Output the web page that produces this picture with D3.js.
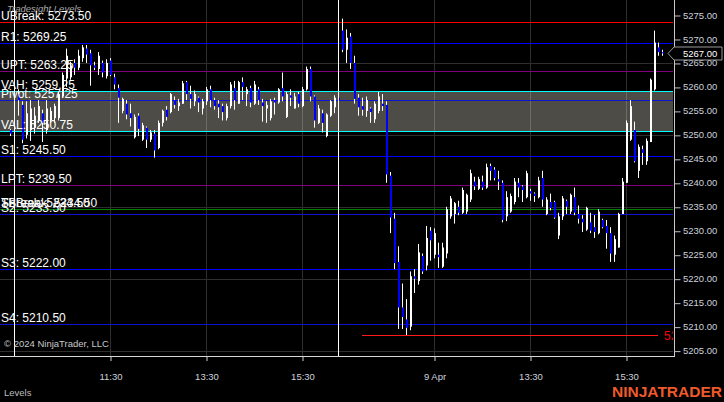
<!DOCTYPE html>
<html><head><meta charset="utf-8">
<script src="https://cdn.jsdelivr.net/npm/d3@7"></script>
<style>
html,body{margin:0;padding:0;background:#000;}
svg{display:block;}
text{font-family:"Liberation Sans",Arial,sans-serif;}
</style></head><body>
<svg id="chart" width="724" height="402"></svg>
<script>
// ---------- DATA ----------
const levelNames  = ["UBreak","R1","UPT","VAH","Pivot","VAL","S1","LPT","TBreak","ShBreak","S2","S3","S4"];
const levelValues = [5273.50, 5269.25, 5263.25, 5259.25, 5257.25, 5250.75, 5245.50, 5239.50, 5234.50, 5234.50, 5233.50, 5222.00, 5210.50];
const lowOfDay = 5208.25;
const lastPrice = 5267.00;
const priceTicks = [5205,5210,5215,5220,5225,5230,5235,5240,5245,5250,5255,5260,5265,5270,5275];
const gridPrices = [5205,5220,5235,5250,5265];
const timeTickIndex = [24,48,72,105,129,153];
const timeTickLabels = ["11:30","13:30","15:30","9 Apr","13:30","15:30"];
const sessionBreakIndex = [0,81];
// [open, high, low, close], 5-minute bars
const prevBars = [[5251,5251.25,5249.75,5250.25]];
const day1Bars = [
[5258.5,5259.5,5254,5257.25],[5256.25,5257,5248.25,5249],[5250,5257,5249.25,5254.5],[5251,5257.25,5248.75,5255.5],
[5251.5,5255.75,5250.25,5254],[5253,5257.25,5252.5,5256],[5254.5,5255.25,5248.5,5252.5],[5251,5257.25,5250.25,5255.5],
[5253,5255.75,5252.5,5255],[5253.5,5256.5,5252.5,5256],[5253.5,5259,5253,5258.5],[5258,5263,5257.75,5262.5],
[5261.75,5268,5260,5266.5],[5262,5265.25,5261.5,5264.5],[5265,5265.75,5262.5,5264],[5264,5267.75,5263.5,5266.5],
[5266,5268.75,5265.25,5268.25],[5268,5268.75,5265,5266.75],[5267,5267.75,5260.25,5264.5],[5264.5,5265.25,5263.5,5264],
[5263.75,5267.25,5262.5,5266.5],[5265,5265.5,5262,5263],[5262.25,5265.75,5261.75,5265],[5265.5,5266,5262.25,5262.5],
[5262,5262.75,5259.5,5260.5],[5259.75,5260.5,5252.5,5257.75],[5255,5257.75,5254.5,5257.5],[5256.5,5257.25,5253.25,5254.25],
[5254.5,5256.5,5251.75,5253.5],[5249.5,5254.25,5249.25,5253.75],[5254,5254.5,5249.75,5251.25],[5249,5252.5,5248.75,5252],
[5251.5,5251.75,5247.25,5249],[5249,5251,5248.5,5250.5],[5250.25,5251,5245.25,5246.75],[5247.25,5253,5247,5252.5],
[5252.5,5255.25,5251.75,5255],[5255.25,5256,5253,5253.75],[5254.75,5258.75,5254.5,5258.5],[5257.25,5258,5255.5,5256.25],
[5256,5257.5,5255,5256.75],[5256.5,5261.25,5256.5,5260.75],[5261,5261.25,5257.25,5258.5],[5258.5,5260.25,5255.5,5257.5],
[5257,5259.25,5256,5258.5],[5257.75,5258,5254.75,5256.75],[5255.5,5257.5,5254.25,5257],[5257,5260,5256.25,5259.5],
[5259.5,5260.25,5255.75,5257.25],[5257.25,5257.75,5255.25,5256],[5256.5,5257.25,5253.5,5255.75],[5256,5256.5,5253,5254.75],
[5253.5,5256.5,5253,5256],[5256,5261,5255.5,5260.5],[5259.75,5261.25,5255.25,5257.25],[5256.5,5261.25,5256.5,5261],
[5261,5262,5257.25,5260],[5258.5,5260,5256,5259.5],[5259.75,5260.25,5255.75,5256.75],[5256.5,5261.25,5256.25,5260.5],
[5259.5,5260,5256.25,5257.25],[5256.75,5257.5,5252.75,5256],[5255.5,5257,5252.5,5256.25],[5253.5,5257.5,5253,5257],
[5257.25,5257.75,5254.25,5256.75],[5256.75,5259.75,5256.5,5259.5],[5259.75,5263,5257,5258],[5253.75,5259,5253.5,5258.5],
[5258.25,5259.5,5256,5257.75],[5255.5,5258.75,5255.5,5258],[5258.5,5259,5255.75,5256.5],[5256,5260,5255.75,5259.5],
[5259.5,5264.25,5259.25,5263.75],[5263.75,5264.25,5257,5258],[5258,5258.25,5251.5,5253],[5252.5,5256.25,5252.25,5255.5],
[5254.5,5255.25,5250.5,5252.5],[5249.75,5254.5,5249.5,5254.25],[5254,5257.25,5253.75,5257],[5255.75,5258.25,5254.5,5257.75],
[5257.75,5258,5256.5,5257.25]
];
const day2Bars = [
[5271.75,5274.25,5267.25,5267.75],[5267.75,5272,5265,5270.25],[5270.5,5271.25,5263.75,5265],[5265,5266.5,5256.5,5257.5],
[5257.75,5258.5,5254,5255.75],[5256,5257.75,5254,5255.25],[5255,5258,5253.75,5257.25],[5255.5,5255.75,5252.5,5254.75],
[5253.25,5257,5252.5,5256.5],[5255,5259,5254.5,5258],[5256.5,5258.5,5255,5256],[5256.25,5257,5240,5241.75],
[5241.5,5242.25,5229.5,5232.75],[5232.5,5233.75,5222,5223.25],[5223.5,5226.75,5209.5,5214],[5214,5219,5209.5,5212],
[5211.5,5215.75,5208.25,5209.75],[5210,5221.5,5209.25,5220.5],[5220.5,5222,5217,5220],[5219.5,5227.25,5218.75,5225.5],
[5224.75,5225.25,5221,5221.5],[5222.75,5231,5221.75,5228.5],[5230,5230.75,5223.75,5228],[5225,5230.5,5224.25,5229.5],
[5225,5227.5,5222.25,5224.5],[5222.5,5227.5,5222.25,5226.5],[5225.25,5235,5224.25,5234.5],[5233,5237.25,5232.5,5236.75],
[5233.5,5236,5231.5,5235.75],[5235,5236.25,5233.25,5233.75],[5233.75,5239,5233.5,5238.5],[5234,5237.75,5233.5,5237.5],
[5236.5,5242.75,5236,5242],[5240.25,5241.25,5238.5,5239.25],[5238.75,5241.25,5238.5,5240.75],[5240.25,5241.5,5238.5,5239],
[5239,5244,5238.75,5243.25],[5243.5,5244,5240.5,5242.5],[5242.75,5243.25,5240.5,5241],[5240.75,5242.5,5238.5,5240.25],
[5240,5240.5,5231.75,5232.25],[5233,5238.25,5232,5237],[5234,5237.75,5233.75,5237.25],[5236,5241,5235.5,5240.25],
[5240,5241,5237,5239],[5239.25,5239.5,5236,5238.5],[5237,5242.5,5236.75,5242],[5238.25,5238.75,5236.25,5237.75],
[5237.75,5238,5236,5237.25],[5237,5241.25,5236.75,5240.5],[5241,5242.5,5235,5236.5],[5233.5,5237,5233.25,5236.5],
[5236,5237.75,5234.25,5234.75],[5236,5236.25,5232.5,5232.75],[5229,5233.75,5228.25,5233],[5233,5237.25,5232.25,5236.75],
[5236.25,5236.5,5233.5,5235],[5234,5237.75,5233.5,5237.5],[5237,5239,5233.25,5233.75],[5233.5,5235.25,5231.5,5232.5],
[5232.5,5233.25,5229.75,5231.75],[5230.25,5235,5230,5234.75],[5231.75,5233.75,5229.5,5230],[5230.75,5233.25,5228.5,5229.75],
[5229.5,5234.5,5229.25,5234],[5232.25,5232.5,5230.5,5230.75],[5231,5232.25,5226.25,5229.5],[5229.5,5230.75,5223.5,5225.25],
[5225,5229,5223.5,5228.25],[5226.5,5233.75,5226.5,5233.5],[5233.5,5241,5233.5,5240.25],[5240,5253,5240,5252.5],
[5249,5257.25,5248.75,5256],[5251,5252.75,5244.25,5244.5],[5242.5,5248,5241,5247.5],[5247,5247.75,5243.75,5246.25],
[5244.5,5249.25,5243.75,5248.75],[5248.5,5261.75,5248.5,5261.5],[5259.5,5271.75,5259.25,5269.25],[5268.25,5269.25,5266.5,5267.25],
[5267.25,5267.75,5266.5,5267]
];

// ---------- CHART ----------
const W = 724, H = 402, plotRight = 674, plotBottom = 356;
const levelStyle = {
  UBreak:"#ff0000", R1:"#0000ff", UPT:"#800080", VAH:"#00ffff", Pivot:"#1010d0", VAL:"#00ffff",
  S1:"#0000ff", LPT:"#800080", TBreak:"#008000", ShBreak:"#008000", S2:"#1010d0", S3:"#0000ff", S4:"#1010d0"
};
const svg = d3.select("#chart");
svg.append("rect").attr("width", W).attr("height", H).attr("fill", "#000");

const x = d3.scaleLinear().domain([-3.5, 165]).range([0, plotRight]);
const y = d3.scaleLinear().domain([5205, 5275]).range([350.6, 15]);
const px = v => Math.round(v) + 0.5;

svg.append("defs").append("clipPath").attr("id","plotClip")
  .append("rect").attr("x",0).attr("y",0).attr("width",plotRight-1).attr("height",plotBottom);
const plot = svg.append("g").attr("clip-path","url(#plotClip)");

// grid
plot.selectAll("line.hg").data(gridPrices).join("line").attr("class","hg")
  .attr("x1",0).attr("x2",plotRight).attr("y1",d=>px(y(d))).attr("y2",d=>px(y(d)))
  .attr("stroke","#2e2e2e").attr("stroke-width",1);
plot.selectAll("line.vg").data(timeTickIndex).join("line").attr("class","vg")
  .attr("x1",d=>px(x(d))).attr("x2",d=>px(x(d))).attr("y1",0).attr("y2",plotBottom)
  .attr("stroke","#2e2e2e").attr("stroke-width",1);

// value area band
const vah = levelValues[levelNames.indexOf("VAH")], val = levelValues[levelNames.indexOf("VAL")];
plot.append("rect").attr("x",0).attr("width",plotRight)
  .attr("y", px(y(vah))).attr("height", px(y(val)) - px(y(vah)))
  .attr("fill","rgba(255,252,232,0.3)");

// level lines
plot.selectAll("line.lvl").data(levelNames).join("line").attr("class","lvl")
  .attr("x1",0).attr("x2",plotRight)
  .attr("y1",(d,i)=>px(y(levelValues[i]))).attr("y2",(d,i)=>px(y(levelValues[i])))
  .attr("stroke",d=>levelStyle[d]).attr("stroke-width",1);

// candles
const bars = [];
prevBars.forEach((b,k)=>bars.push({i:-1+k, o:b[0],h:b[1],l:b[2],c:b[3]}));
day1Bars.forEach((b,k)=>bars.push({i:1+k, o:b[0],h:b[1],l:b[2],c:b[3]}));
day2Bars.forEach((b,k)=>bars.push({i:82+k, o:b[0],h:b[1],l:b[2],c:b[3]}));
const cg = plot.append("g");
cg.selectAll("line.wick").data(bars).join("line").attr("class","wick")
  .attr("x1",d=>Math.round(x(d.i))+0.5).attr("x2",d=>Math.round(x(d.i))+0.5)
  .attr("y1",d=>y(d.h)).attr("y2",d=>y(d.l)).attr("stroke","#ffffff").attr("stroke-width",1);
cg.selectAll("rect.body").data(bars).join("rect").attr("class","body")
  .attr("x",d=>Math.round(x(d.i))).attr("width",2)
  .attr("y",d=>y(Math.max(d.o,d.c)))
  .attr("height",d=>Math.max(1, y(Math.min(d.o,d.c)) - y(Math.max(d.o,d.c))))
  .attr("fill",d=> d.c >= d.o ? "#ffffff" : "#0000ff");

// session break lines
plot.selectAll("line.sess").data(sessionBreakIndex).join("line").attr("class","sess")
  .attr("x1",d=>px(x(d))).attr("x2",d=>px(x(d))).attr("y1",0).attr("y2",plotBottom)
  .attr("stroke","#ffffff").attr("stroke-width",1);

// low of day marker
plot.append("line").attr("x1",x(87)).attr("x2",x(161))
  .attr("y1",px(y(lowOfDay))).attr("y2",px(y(lowOfDay))).attr("stroke","#ff1a1a").attr("stroke-width",1.2);
plot.append("text").attr("x",x(162.5)).attr("y",y(lowOfDay)+4.5)
  .attr("fill","#ff0000").attr("font-size",12).text(lowOfDay.toFixed(2));

// indicator title + level labels
svg.append("text").attr("x",7).attr("y",12).attr("font-size",9.5).attr("font-style","italic")
  .attr("fill","#a8a8a8").text("Tradesight Levels");
svg.selectAll("text.lbl").data(levelNames).join("text").attr("class","lbl")
  .attr("x",1)
  .attr("y",(d,i)=>Math.round(y(levelValues[i])) - 2)
  .attr("font-size",12).attr("fill","#ffffff")
  .text((d,i)=>d + ": " + levelValues[i].toFixed(2));

// right axis
const ay = svg.append("g").attr("transform",`translate(${plotRight},0)`)
  .call(d3.axisRight(y).tickValues(priceTicks).tickFormat(d3.format(".2f")).tickSize(6).tickPadding(3));
ay.select(".domain").remove();
ay.selectAll(".tick line").attr("stroke","#c0c0c0").attr("transform","translate(0.5,0.5)");
ay.selectAll(".tick text").attr("fill","#cdd2dc").attr("font-size",9.5)
  .attr("font-family","'Liberation Sans',Arial,sans-serif");
svg.append("line").attr("x1",plotRight+0.5).attr("x2",plotRight+0.5).attr("y1",0).attr("y2",plotBottom+0.5)
  .attr("stroke","#c8c8c8").attr("stroke-width",1);

// current price marker
const yc = Math.round(y(lastPrice)) + 0.5;
svg.append("path")
  .attr("d",`M${plotRight-6},${yc} L${plotRight},${yc-6.5} L722,${yc-6.5} L722,${yc+6.5} L${plotRight},${yc+6.5} Z`)
  .attr("fill","#000").attr("stroke","#9a9a9a").attr("stroke-width",1);
svg.append("text").attr("x",683).attr("y",yc+3.5).attr("font-size",9.5).attr("fill","#ffffff")
  .text(lastPrice.toFixed(2));

// bottom axis
const ax = svg.append("g").attr("transform",`translate(0.5,${plotBottom})`)
  .call(d3.axisBottom(x).tickValues(timeTickIndex).tickFormat((d,i)=>timeTickLabels[i]).tickSize(5).tickPadding(12));
ax.select(".domain").remove();
ax.selectAll(".tick line").attr("stroke","#d0d0d0");
ax.selectAll(".tick text").attr("fill","#cdd2dc").attr("font-size",9.5)
  .attr("font-family","'Liberation Sans',Arial,sans-serif");
svg.append("line").attr("x1",0).attr("x2",plotRight+1).attr("y1",plotBottom+0.5).attr("y2",plotBottom+0.5)
  .attr("stroke","#d8d8d8").attr("stroke-width",1);

// footer texts
svg.append("text").attr("x",4).attr("y",347).attr("font-size",9.5).attr("fill","#c8c8c8")
  .text("© 2024 NinjaTrader, LLC");
svg.append("text").attr("x",4).attr("y",396).attr("font-size",9.5).attr("fill","#bdbdbd").text("Levels");
svg.append("text").attr("x",612).attr("y",397).attr("font-size",15)
  .attr("textLength",110).attr("lengthAdjust","spacingAndGlyphs")
  .attr("font-weight","bold").attr("fill","#ee5a2b").text("NINJATRADER");
</script>
</body></html>
